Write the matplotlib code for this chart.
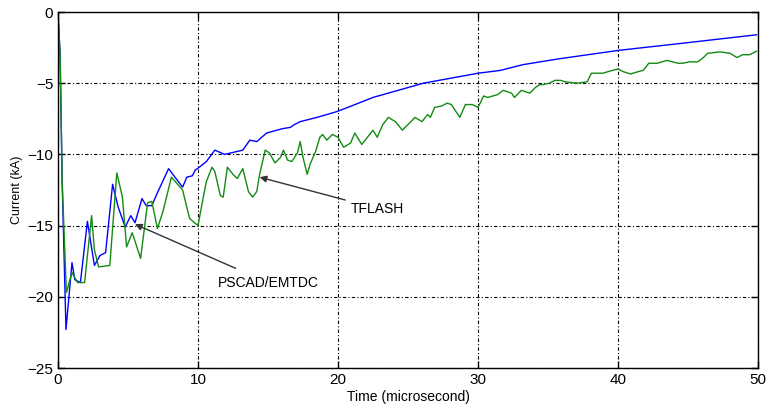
#!/usr/bin/env python

import matplotlib.pyplot as plt
import numpy as np

plt.rcParams['font.family'] = ['Liberation Sans', 'DejaVu Sans']

# PSCAD/EMTDC (blue) - time in microseconds, current in kA
pscad_t = [0, 0.15, 0.3, 0.57, 1.0, 1.2, 1.6, 2.1, 2.6, 3.0, 3.4, 3.9, 4.3, 4.8,
           5.2, 5.5, 6.0, 6.3, 6.7, 7.1, 7.9, 8.2, 8.9, 9.2, 9.6, 9.8, 10.1,
           10.6, 11.2, 11.9, 13.2, 13.7, 14.2, 14.9, 16.0, 16.6, 16.9, 17.3,
           18.5, 19.9, 20.7, 22.5, 26.1, 30.0, 31.6, 33.2, 35.7, 40.0, 45.0,
           49.9]
pscad_i = [0, -3, -12, -22.3, -17.6, -18.8, -19.0, -14.7, -17.8, -17.1, -16.9,
           -12.1, -13.7, -15.1, -14.3, -14.8, -13.1, -13.6, -13.6, -12.7, -11.0,
           -11.4, -12.3, -11.6, -11.5, -11.1, -10.9, -10.5, -9.7, -10.0, -9.7,
           -9.0, -9.1, -8.5, -8.2, -8.1, -7.9, -7.7, -7.4, -7.0, -6.7, -6.0,
           -5.0, -4.3, -4.1, -3.7, -3.3, -2.7, -2.15, -1.6]

# TFLASH (green)
tflash_t = [0, 0.15, 0.3, 0.6, 1.0, 1.4, 1.9, 2.4, 2.6, 2.9, 3.7, 4.2, 4.6, 4.9,
            5.3, 5.9, 6.4, 6.7, 7.1, 7.5, 8.1, 8.9, 9.4, 10.0, 10.3, 10.6, 11.0,
            11.2, 11.6, 11.8, 12.1, 12.5, 12.8, 13.2, 13.6, 13.9, 14.2, 14.4,
            14.8, 15.1, 15.5, 15.9, 16.1, 16.4, 16.7, 17.1, 17.3, 17.5, 17.8,
            18.0, 18.4, 18.7, 18.9, 19.2, 19.6, 20.0, 20.4, 20.9, 21.2, 21.7,
            22.1, 22.5, 22.8, 23.2, 23.6, 24.1, 24.6, 25.1, 25.5, 26.0, 26.4,
            26.6, 26.9, 27.4, 27.8, 28.1, 28.7, 29.1, 29.6, 30.0, 30.4, 30.7,
            31.4, 31.8, 32.4, 32.6, 33.1, 33.7, 34.1, 34.4, 34.6, 35.1, 35.5,
            35.9, 36.2, 37.1, 37.8, 38.1, 38.9, 39.6, 40.0, 40.4, 40.9, 41.4,
            41.8, 42.2, 42.8, 43.5, 43.9, 44.3, 44.6, 45.1, 45.7, 46.1, 46.4,
            47.3, 48.0, 48.5, 48.9, 49.4, 49.9]
tflash_i = [0, -3, -12, -19.7, -18.3, -19.0, -19.0, -14.3, -16.7, -17.9, -17.8,
            -11.3, -13.0, -16.5, -15.5, -17.3, -13.4, -13.3, -15.2, -14.0,
            -11.6, -12.5, -14.5, -15.0, -13.4, -11.9, -10.9, -11.2, -12.9,
            -13.0, -10.9, -11.4, -11.7, -11.0, -12.6, -13.0, -12.6, -11.4,
            -9.7, -9.9, -10.6, -10.2, -9.7, -10.4, -10.5, -9.9, -9.1, -10.2,
            -11.4, -10.7, -9.8, -8.8, -8.6, -9.0, -8.6, -8.8, -9.5, -9.2, -8.5,
            -9.3, -8.8, -8.3, -8.8, -7.9, -7.4, -7.7, -8.3, -7.8, -7.4, -7.7,
            -7.2, -7.4, -6.7, -6.6, -6.4, -6.5, -7.4, -6.5, -6.5, -6.7, -5.9,
            -6.0, -5.8, -5.5, -5.7, -6.0, -5.5, -5.7, -5.3, -5.1, -5.1, -5.0,
            -4.8, -4.8, -4.9, -5.0, -4.9, -4.3, -4.3, -4.1, -4.0, -4.2, -4.35,
            -4.2, -4.1, -3.6, -3.6, -3.4, -3.5, -3.6, -3.6, -3.5, -3.5, -3.2,
            -2.9, -2.8, -2.9, -3.2, -3.0, -3.0, -2.75]

x_ticks = [0, 10, 20, 30, 40, 50]
y_ticks = [0, -5, -10, -15, -20, -25]

fig = plt.figure(figsize=(7.67, 4.05), dpi=100)
ax = fig.add_axes([58 / 767, 37 / 405, 700 / 767, 356 / 405])

ax.plot(pscad_t, pscad_i, color='#0000ff', linewidth=1.0)
ax.plot(tflash_t, tflash_i, color='#138a13', linewidth=1.0)

ax.set_xlim(0, 50)
ax.set_ylim(-25, 0)
ax.set_xticks(x_ticks)
ax.set_yticks(y_ticks)
ax.grid(True, color='black', linestyle=(0, (3, 2, 1, 2)), linewidth=0.8)
ax.tick_params(direction='in', top=True, right=True, length=5,
               labelsize=11, width=1)
for s in ax.spines.values():
    s.set_linewidth(1.0)

ax.set_xlabel('Time (microsecond)', fontsize=10, labelpad=2)
ax.set_ylabel('Current (kA)', fontsize=9, labelpad=3)

# Annotations
ax.annotate('TFLASH', xy=(14.4, -11.6), xytext=(20.9, -13.8),
            fontsize=10, va='center',
            arrowprops=dict(arrowstyle='-|>', color='#333333', lw=1.0,
                            shrinkA=2, shrinkB=0, mutation_scale=10))
ax.annotate('PSCAD/EMTDC', xy=(5.5, -14.9), xytext=(11.4, -19.0),
            fontsize=10, va='center',
            arrowprops=dict(arrowstyle='-|>', color='#333333', lw=1.0,
                            shrinkA=8, shrinkB=0, mutation_scale=10))

plt.savefig('out.png', dpi=100)
